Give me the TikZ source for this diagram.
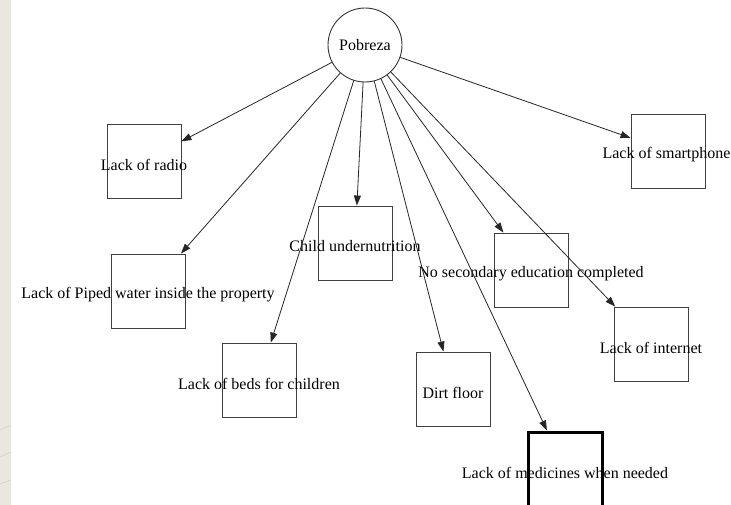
\documentclass[tikz,border=0pt]{standalone}
\usepackage{fontspec}
\setmainfont{Liberation Serif}
\usetikzlibrary{arrows.meta}
\definecolor{paperedge}{RGB}{233,231,223}
\begin{document}
\begin{tikzpicture}[x=1pt,y=-1pt,
  box/.style={draw=black!75,line width=0.9pt,minimum width=74pt,minimum height=74pt,inner sep=0pt},
  heavybox/.style={box,draw=black,line width=3pt},
  hub/.style={draw=black!80,line width=0.9pt,circle,minimum size=74pt,inner sep=0pt,font=\fontsize{16}{19}\selectfont},
  lbl/.style={font=\fontsize{16}{19}\selectfont,inner sep=0pt,yshift=-3.5pt},
  link/.style={draw=black!85,line width=0.8pt,-{Triangle[length=10pt,width=7pt]}}]
\useasboundingbox (0,0) rectangle (731,505);
\fill[white] (0,0) rectangle (731,505);
% paper edge on the left
\fill[paperedge] (0,0) rectangle (11,505);
\draw[black!20,line width=0.5pt] (0,430) -- (11,425);
\draw[black!20,line width=0.5pt] (0,457) -- (11,452);
\draw[black!20,line width=0.5pt] (0,484) -- (11,480);

\node[hub] (p) at (365,45) {Pobreza};

\node[box] (radio) at (144,161) {};
\node[lbl] at (radio.center) {Lack of radio};
\node[box] (smart) at (668,151) {};
\node[lbl,xshift=-1.5pt] at (smart.center) {Lack of smartphone};
\node[box] (child) at (355,243) {};
\node[lbl] at (child.center) {Child undernutrition};
\node[box] (water) at (148,291) {};
\node[lbl] at (water.center) {Lack of Piped water inside the property};
\node[box] (school) at (531,270) {};
\node[lbl] at (school.center) {No secondary education completed};
\node[box] (net) at (651,344) {};
\node[lbl] at (net.center) {Lack of internet};
\node[box] (beds) at (259,380) {};
\node[lbl] at (beds.center) {Lack of beds for children};
\node[box] (dirt) at (453,389) {};
\node[lbl] at (dirt.center) {Dirt floor};
\node[heavybox] (med) at (565,469) {};
\node[lbl] at (med.center) {Lack of medicines when needed};

\foreach \t in {radio,smart,child,water,school,net,beds,dirt,med}
  \draw[link] (p) -- (\t);
\end{tikzpicture}
\end{document}
